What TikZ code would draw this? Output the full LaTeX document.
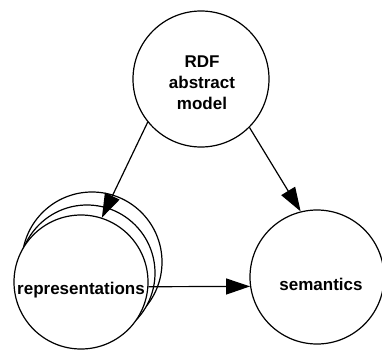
\documentclass[tikz,border=0pt]{standalone}
\usepackage{fontspec}
\setmainfont{Liberation Sans}
\usetikzlibrary{arrows.meta}
\tikzset{
  circ/.style={circle, draw=black, line width=1.2pt, fill=white, inner sep=0pt, minimum size=#1},
  lbl/.style={font=\bfseries\fontsize{17}{21}\selectfont, align=center, inner sep=0pt},
  conn/.style={line width=1.2pt, -{Triangle[length=24pt,width=16pt]}}
}
\begin{document}
\begin{tikzpicture}[x=1pt,y=-1pt]
\useasboundingbox (0,0) rectangle (382,351);
% top
\node[circ=136pt] (rdf) at (201,79) {};
\node[lbl] (rdft) at (202,83) {RDF\\abstract\\model};
% representations stack
\node[circ=140pt] (repc) at (92,262) {};
\node[circ=136pt] (repb) at (87,273) {};
\node[circ=134pt] (rep) at (81,282) {};
\node[lbl] (rept) at (81,290) {representations};
% semantics
\node[circ=134pt] (sem) at (317,277) {};
\node[lbl] (semt) at (321,284) {semantics};
% connectors
\draw[conn] (rdf.219) -- (rep.72);
\draw[conn] (rdf.315) -- (sem.104);
\draw[conn] (rep.-4.3) -- (sem.188.6);
\end{tikzpicture}
\end{document}
